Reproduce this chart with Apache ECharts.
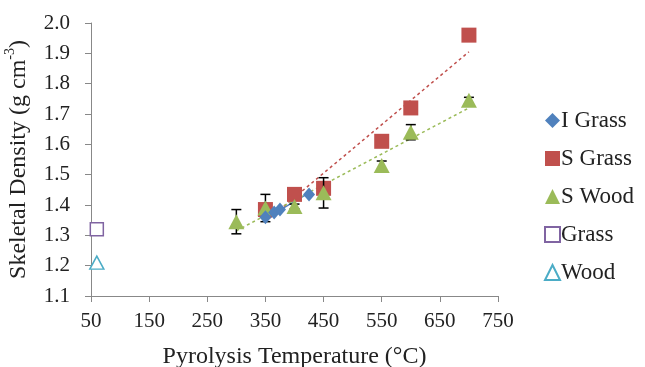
<!DOCTYPE html>
<html>
<head>
<meta charset="utf-8">
<script src="https://cdn.jsdelivr.net/npm/echarts@6/dist/echarts.min.js"></script>
<style>
  html, body { margin: 0; padding: 0; background: #fff; }
  #chart { width: 645px; height: 367px; }
</style>
</head>
<body>
<div id="chart"></div>
<script>
// temperatures (°C) and skeletal densities
const iGrassX = [350, 365, 375, 425];
const iGrassY = [1.36, 1.375, 1.385, 1.435];
const sGrassX = [350, 400, 450, 550, 600, 700];
const sGrassY = [1.385, 1.435, 1.455, 1.61, 1.72, 1.96];
const sWoodX = [300, 350, 400, 450, 550, 600, 700];
const sWoodY = [1.345, 1.39, 1.395, 1.44, 1.53, 1.64, 1.745];
const sWoodErr = [0.04, 0.045, 0.008, 0.05, 0.015, 0.025, 0.01];
const grassX = [60];
const grassY = [1.32];
const woodX = [60];
const woodY = [1.21];
// trend line end points
const iGrassTrendX = [350, 425];
const iGrassTrendY = [1.355, 1.44];
const sGrassTrendX = [350, 700];
const sGrassTrendY = [1.345, 1.905];
const sWoodTrendX = [300, 700];
const sWoodTrendY = [1.315, 1.72];

const xTicks = [50, 150, 250, 350, 450, 550, 650, 750];
const yMin = 1.1, yMax = 2.0;

const zip = (xs, ys) => xs.map((x, i) => [x, ys[i]]);
const font = 'Liberation Serif';

const chart = echarts.init(document.getElementById('chart'));

const errData = sWoodX.map((x, i) => [x, sWoodY[i] - sWoodErr[i], sWoodY[i] + sWoodErr[i]]);

const trend = (xs, ys, color, type) => ({
  type: 'line',
  data: zip(xs, ys),
  symbol: 'none',
  silent: true,
  z: 1,
  lineStyle: { color: color, width: 1.5, type: type }
});

const option = {
  animation: false,
  grid: { left: 91, right: 147, top: 23, bottom: 71, containLabel: false, outerBoundsMode: 'none' },
  xAxis: {
    type: 'value',
    min: xTicks[0],
    max: xTicks[xTicks.length - 1],
    interval: 100,
    name: 'Pyrolysis Temperature (°C)',
    nameLocation: 'middle',
    nameGap: 49,
    nameTextStyle: { fontFamily: font, fontSize: 24, color: '#222' },
    axisLine: { lineStyle: { color: '#888', width: 1 } },
    axisTick: { show: true, length: 6, lineStyle: { color: '#888' } },
    axisLabel: { fontFamily: font, fontSize: 21, color: '#222', margin: 15 },
    splitLine: { show: false }
  },
  yAxis: {
    type: 'value',
    min: yMin,
    max: yMax,
    interval: 0.1,
    name: '{n|Skeletal Density (g cm}{s|-3}{n|)}',
    nameLocation: 'middle',
    nameGap: 60,
    nameTextStyle: {
      fontFamily: font, fontSize: 24, color: '#222',
      rich: {
        n: { fontFamily: font, fontSize: 24, color: '#222', lineHeight: 28, verticalAlign: 'bottom' },
        s: { fontFamily: font, fontSize: 14, color: '#222', lineHeight: 28, verticalAlign: 'top' }
      }
    },
    axisLine: { show: true, lineStyle: { color: '#888', width: 1 } },
    axisTick: { show: true, length: 6, lineStyle: { color: '#888' } },
    axisLabel: { fontFamily: font, fontSize: 21, color: '#222', margin: 21, formatter: v => v.toFixed(1) },
    splitLine: { show: false }
  },
  legend: {
    orient: 'vertical',
    left: 539,
    top: 104,
    itemGap: 15,
    itemWidth: 15,
    itemHeight: 15,
    textStyle: { fontFamily: font, fontSize: 23, color: '#222', padding: [0, 0, 0, -4] },
    data: ['I Grass', 'S Grass', 'S Wood', 'Grass', 'Wood']
  },
  series: [
    trend(iGrassTrendX, iGrassTrendY, '#4F81BD', 'solid'),
    trend(sGrassTrendX, sGrassTrendY, '#C0504D', [3, 3]),
    trend(sWoodTrendX, sWoodTrendY, '#9BBB59', [3, 3]),
    {
      name: 'S Grass', type: 'scatter', data: zip(sGrassX, sGrassY),
      symbol: 'rect', symbolSize: 15, z: 2,
      itemStyle: { color: '#C0504D', opacity: 1 }
    },
    {
      type: 'custom', silent: true, z: 3,
      data: errData,
      renderItem: (params, api) => {
        const lo = api.coord([api.value(0), api.value(1)]);
        const hi = api.coord([api.value(0), api.value(2)]);
        const w = 5;
        const style = { stroke: '#000', lineWidth: 1.5 };
        return {
          type: 'group',
          children: [
            { type: 'line', shape: { x1: lo[0], y1: lo[1], x2: hi[0], y2: hi[1] }, style: style },
            { type: 'line', shape: { x1: lo[0] - w, y1: lo[1], x2: lo[0] + w, y2: lo[1] }, style: style },
            { type: 'line', shape: { x1: hi[0] - w, y1: hi[1], x2: hi[0] + w, y2: hi[1] }, style: style }
          ]
        };
      }
    },
    {
      name: 'S Wood', type: 'scatter', data: zip(sWoodX, sWoodY),
      symbol: 'triangle', symbolSize: [16, 15], z: 4,
      itemStyle: { color: '#9BBB59', opacity: 1 }
    },
    {
      name: 'I Grass', type: 'scatter', data: zip(iGrassX, iGrassY),
      symbol: 'diamond', symbolSize: [12, 14], z: 5,
      itemStyle: { color: '#4F81BD', opacity: 1 }
    },
    {
      name: 'Grass', type: 'scatter', data: zip(grassX, grassY),
      symbol: 'rect', symbolSize: 13, z: 5,
      itemStyle: { color: '#fff', borderColor: '#8064A2', borderWidth: 1.5, opacity: 1 }
    },
    {
      name: 'Wood', type: 'scatter', data: zip(woodX, woodY),
      symbol: 'triangle', symbolSize: [14, 13], z: 5,
      itemStyle: { color: '#fff', borderColor: '#4BACC6', borderWidth: 1.5, opacity: 1 }
    }
  ]
};

chart.setOption(option);
</script>
</body>
</html>
